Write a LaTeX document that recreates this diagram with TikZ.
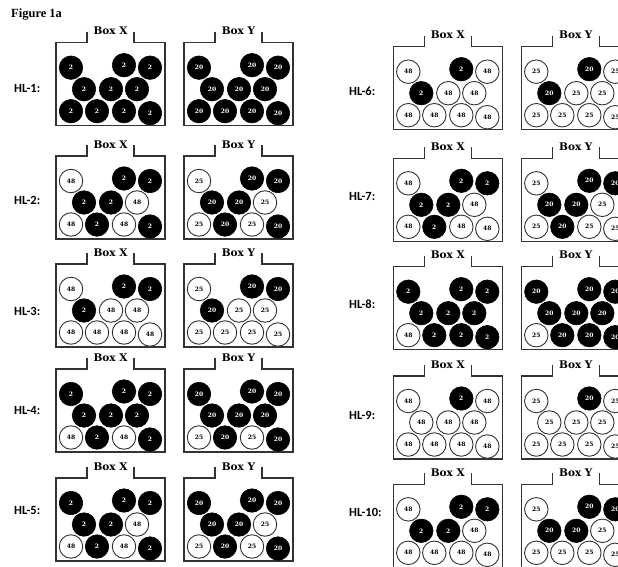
\documentclass[tikz,border=0pt]{standalone}
\usepackage{fontspec}
\newfontfamily\figfont{Liberation Serif}
\newfontfamily\hlfont{Carlito}
\newfontfamily\boxfont{DejaVu Serif}
\definecolor{lineC}{HTML}{333333}
\tikzset{
  boxline/.style={draw=lineC, line width=1.3pt},
  boxlabel/.style={anchor=base, inner sep=0pt, font=\boxfont\bfseries\fontsize{10.5}{10.5}\selectfont},
  hllabel/.style={anchor=west, inner sep=0pt, font=\hlfont\bfseries\fontsize{12.5}{12.5}\selectfont},
  ballbase/.style={circle, minimum size=23.5pt, inner sep=0pt, font=\boxfont\bfseries\fontsize{6}{6}\selectfont},
  bball/.style={ballbase, fill=black, draw=black, line width=0.6pt, text=white},
  wball/.style={ballbase, fill=white, draw=lineC, line width=0.9pt, text=black},
}
\newcommand\drawbox[7]{%
  \draw[boxline] (#1+31,#2-11) -- (#1+31,#2) -- (#1,#2) -- (#1,#2+83) -- (#1+109,#2+83) -- (#1+109,#2) -- (#1+78,#2) -- (#1+78,#2-11);
  \node[boxlabel] (#7-lab) at (#1+54.5,#2-8) {#3};
  \foreach \dx/\dy [count=\i] in {15/25,68/22.5,94/25,28/46.5,55/46.5,81/46.5,15/68.5,41/68.5,68/68.5,94/70.5}{%
    \pgfmathtruncatemacro\bc{{#6}[\i-1]}%
    \ifnum\bc=1 \node[bball] (#7-\i) at (#1+\dx,#2+\dy) {#4};%
    \else \node[wball] (#7-\i) at (#1+\dx,#2+\dy) {#5};\fi
  }%
}
\newcommand\hlrow[5]{% #1 label x, #2 label y, #3 box X left, #4 top, #5 label number; pattern in \pat
  \node[hllabel] (lab-#5) at (#1,#2) {HL-#5:};
  \pgfmathsetmacro\xbx{#3}%
  \pgfmathsetmacro\ybx{#3+128}%
  \drawbox{\xbx}{#4}{Box X}{2}{48}{\pat}{bx#5}
  \drawbox{\ybx}{#4}{Box Y}{20}{25}{\pat}{by#5}
}
\begin{document}
\begin{tikzpicture}[x=1pt,y=-1pt]
\useasboundingbox (0,0) rectangle (618,567);
\node[anchor=base west, inner sep=0pt, font=\figfont\bfseries\fontsize{12.5}{12.5}\selectfont] (title) at (11,18) {Figure 1a};
\def\pat{1,1,1,1,1,1,1,1,1,1}\hlrow{14}{88}{56}{42.7}{1}
\def\pat{0,1,1,1,1,0,0,1,0,1}\hlrow{14}{200.5}{56}{156}{2}
\def\pat{0,1,1,1,0,0,0,0,0,0}\hlrow{14}{311.5}{56}{264}{3}
\def\pat{1,1,1,1,1,1,0,1,0,1}\hlrow{14}{410.5}{56}{369}{4}
\def\pat{1,1,1,1,1,0,0,1,0,1}\hlrow{14}{510.5}{56}{478}{5}
\def\pat{0,1,0,1,0,0,0,0,0,0}\hlrow{349}{91}{393.3}{46.7}{6}
\def\pat{0,1,1,1,1,0,0,1,0,0}\hlrow{349}{196}{393.3}{158.3}{7}
\def\pat{1,1,1,1,1,1,0,1,1,1}\hlrow{349}{304.5}{393.3}{266.7}{8}
\def\pat{0,1,0,0,0,0,0,0,0,0}\hlrow{349}{415.5}{393.3}{376}{9}
\def\pat{0,1,1,1,1,0,0,0,0,0}\hlrow{349}{512}{393.3}{484.3}{10}
\end{tikzpicture}
\end{document}
